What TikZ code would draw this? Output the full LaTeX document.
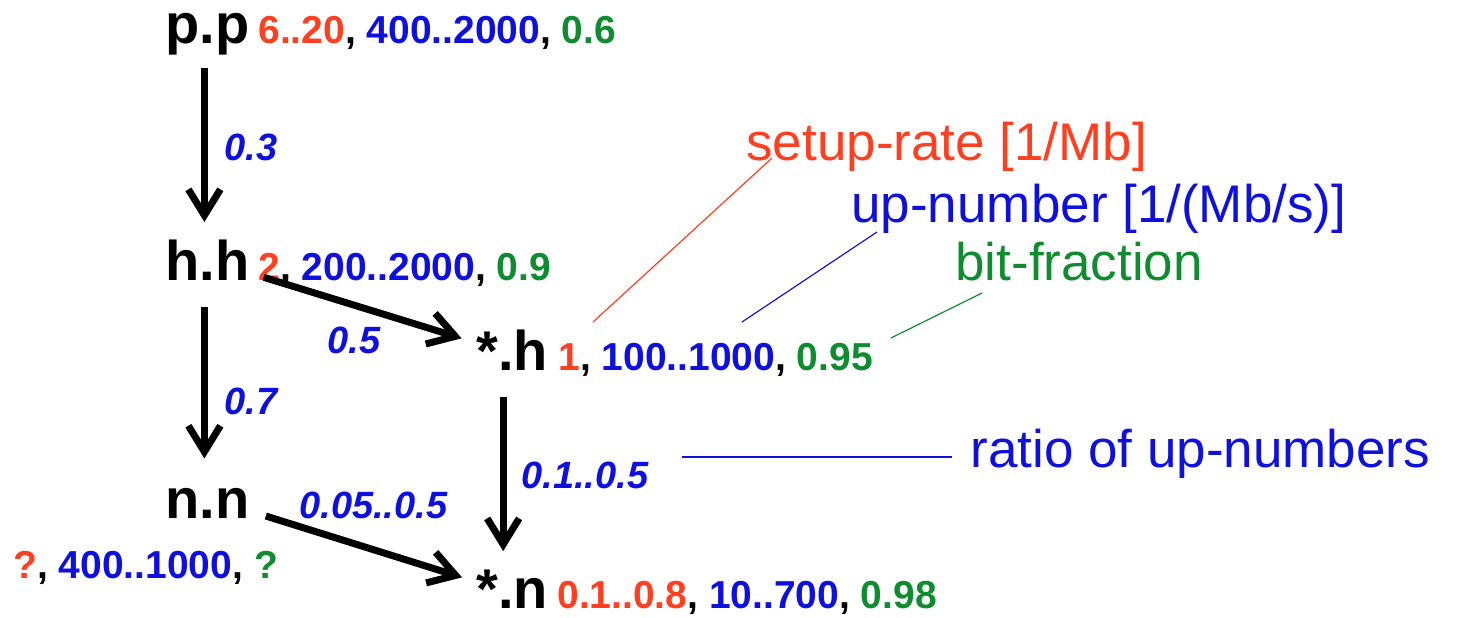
\documentclass[tikz,border=0pt]{standalone}
\usepackage{fontspec}
\setmainfont{Liberation Sans}
\usetikzlibrary{arrows.meta}
\definecolor{cred}{RGB}{255,64,32}
\definecolor{cblue}{RGB}{16,16,220}
\definecolor{cgreen}{RGB}{16,140,48}
\begin{document}
\begin{tikzpicture}[x=0.5pt,y=-0.5pt,
  nd/.style={anchor=base west, inner sep=0pt, font=\fontsize{28}{30}\selectfont\bfseries},
  val/.style={anchor=base west, inner sep=0pt, font=\fontsize{19.5}{22}\selectfont\bfseries},
  elab/.style={anchor=base west, inner sep=0pt, text=cblue, font=\fontsize{19}{22}\selectfont\bfseries\itshape},
  ann/.style={anchor=base west, inner sep=0pt, font=\fontsize{26.5}{30}\selectfont},
  arr/.style={line width=3.5pt, -{Straight Barb[length=13pt,width=16pt]}},
  lead/.style={line width=0.6pt}]
\useasboundingbox (0,0) rectangle (1458,617);

% main nodes
\node[nd] (pp) at (165,43) {p.p};
\node[val] (ppv) at (258,43) {\textcolor{cred}{6..20}, \textcolor{cblue}{400..2000}, \textcolor{cgreen}{0.6}};
\node[nd] (hh) at (165,280) {h.h};
\node[val] (hhv) at (258,280) {\textcolor{cred}{2}, \textcolor{cblue}{200..2000}, \textcolor{cgreen}{0.9}};
\node[nd] (nn) at (165,518) {n.n};
\node[val] (nnv) at (13,578) {\textcolor{cred}{?}, \textcolor{cblue}{400..1000}, \textcolor{cgreen}{?}};
\node[nd] (sh) at (476,370) {*.h};
\node[val] (shv) at (558,370) {\textcolor{cred}{1}, \textcolor{cblue}{100..1000}, \textcolor{cgreen}{0.95}};
\node[nd] (sn) at (476,608) {*.n};
\node[val] (snv) at (557,608) {\textcolor{cred}{0.1..0.8}, \textcolor{cblue}{10..700}, \textcolor{cgreen}{0.98}};

% edge labels
\node[elab] (l1) at (224,160) {0.3};
\node[elab] (l2) at (327,353) {0.5};
\node[elab] (l3) at (224,414) {0.7};
\node[elab] (l4) at (521,488) {0.1..0.5};
\node[elab] (l5) at (299,518) {0.05..0.5};

% connectors
\draw[arr, shorten <=6.5pt, shorten >=8.5pt] ([xshift=-1.5pt]pp.south) -- ([xshift=-1.5pt]hh.north);
\draw[arr, shorten <=13.5pt, shorten >=14.5pt] ([xshift=-1.5pt]hh.south) -- ([xshift=-1.5pt]nn.north);
\draw[arr, shorten <=13.5pt, shorten >=9pt] ([xshift=-4.5pt]sh.south) -- ([xshift=-4.5pt]sn.north);
\draw[arr, shorten <=7.3pt, shorten >=7.5pt] ([yshift=3.5pt]hh.base east) -- ([yshift=3.5pt]sh.west);
\draw[arr, shorten <=8.4pt, shorten >=7.3pt] ([yshift=3.5pt]nn.base east) -- ([yshift=3.5pt]sn.west);

% annotations
\node[ann, text=cred] (a1) at (746,160) {setup-rate [1/Mb]};
\node[ann, text=cblue] (a2) at (851,222) {up-number [1/(Mb/s)]};
\node[ann, text=cgreen] (a3) at (955,280) {bit-fraction};
\node[ann, text=cblue] (a4) at (970,467) {ratio of up-numbers};

\coordinate (e1) at (593,322);
\coordinate (t1) at (772,158);
\coordinate (e2) at (742,322);
\coordinate (t2) at (877,232);
\coordinate (e3) at (891,338);
\coordinate (t3) at (982,293);
\coordinate (e4) at (682,457);
\coordinate (t4) at (952,457);
\draw[lead, cred] (e1) -- (t1);
\draw[lead, cblue] (e2) -- (t2);
\draw[lead, cgreen] (e3) -- (t3);
\draw[lead, cblue] (e4) -- (t4);
\end{tikzpicture}
\end{document}
